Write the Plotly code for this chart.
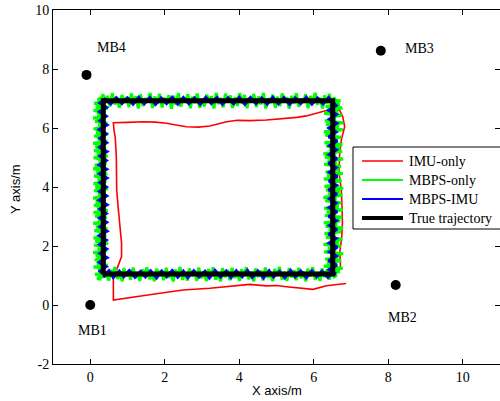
import plotly.graph_objects as go

# ---- True trajectory (rectangle corners) ----
true_x = [0.35, 6.51, 6.51, 0.35, 0.35]
true_y = [1.05, 1.05, 6.92, 6.92, 1.05]

# ---- MBPS-only (green) samples, per side, (x, y) ----
g_bottom = [(0.25,0.88),(0.31,1.22),(0.38,0.93),(0.42,1.10),(0.50,0.83),(0.55,1.19),(0.61,1.00),(0.66,1.29),(0.74,0.88),(0.78,1.14),(0.86,0.80),(0.90,1.25),(0.97,0.97),(1.03,1.17),(1.08,0.86),(1.15,1.27),(1.22,0.91),(1.27,1.12),(1.33,0.82),(1.41,1.21),(1.46,0.95),(1.52,1.28),(1.60,0.87),(1.64,1.09),(1.72,0.81),(1.78,1.23),(1.85,0.99),(1.90,1.18),(1.97,0.84),(2.04,1.26),(2.10,0.92),(2.15,1.13),(2.23,0.80),(2.28,1.20),(2.35,0.96),(2.41,1.29),(2.48,0.85),(2.53,1.11),(2.61,0.83),(2.66,1.24),(2.73,0.98),(2.80,1.16),(2.86,0.82),(2.91,1.27),(2.99,0.90),(3.04,1.14),(3.12,0.81),(3.17,1.22),(3.24,0.97),(3.30,1.28),(3.37,0.86),(3.43,1.10),(3.50,0.80),(3.55,1.25),(3.62,0.94),(3.69,1.19),(3.75,0.84),(3.81,1.26),(3.88,0.91),(3.93,1.12),(4.01,0.82),(4.06,1.21),(4.13,0.99),(4.19,1.28),(4.26,0.87),(4.32,1.13),(4.39,0.80),(4.44,1.24),(4.51,0.95),(4.58,1.17),(4.64,0.83),(4.70,1.27),(4.77,0.92),(4.82,1.10),(4.90,0.81),(4.95,1.22),(5.02,0.98),(5.08,1.29),(5.15,0.86),(5.21,1.12),(5.28,0.82),(5.34,1.25),(5.41,0.93),(5.47,1.18),(5.53,0.84),(5.60,1.26),(5.66,0.90),(5.71,1.14),(5.79,0.80),(5.84,1.23),(5.91,0.97),(5.97,1.28),(6.04,0.85),(6.10,1.11),(6.17,0.82),(6.22,1.24),(6.30,0.94),(6.35,1.19),(6.42,0.86),(6.48,1.15),(6.55,0.95)]
g_right = [(6.62,1.00),(6.30,1.06),(6.70,1.13),(6.42,1.18),(6.78,1.25),(6.27,1.31),(6.58,1.37),(6.36,1.43),(6.74,1.50),(6.31,1.55),(6.66,1.62),(6.45,1.68),(6.79,1.74),(6.28,1.80),(6.60,1.87),(6.38,1.92),(6.72,1.99),(6.26,2.05),(6.68,2.11),(6.47,2.17),(6.77,2.24),(6.33,2.29),(6.56,2.36),(6.29,2.42),(6.73,2.48),(6.40,2.54),(6.79,2.61),(6.32,2.66),(6.63,2.73),(6.27,2.79),(6.71,2.85),(6.44,2.91),(6.76,2.98),(6.30,3.03),(6.59,3.10),(6.35,3.16),(6.78,3.22),(6.28,3.28),(6.67,3.35),(6.46,3.40),(6.74,3.47),(6.31,3.53),(6.61,3.59),(6.26,3.65),(6.77,3.72),(6.39,3.77),(6.70,3.84),(6.33,3.90),(6.79,3.96),(6.29,4.02),(6.57,4.09),(6.43,4.14),(6.75,4.21),(6.27,4.27),(6.65,4.33),(6.36,4.39),(6.78,4.46),(6.32,4.51),(6.69,4.58),(6.48,4.64),(6.73,4.70),(6.28,4.76),(6.62,4.83),(6.37,4.88),(6.79,4.95),(6.30,5.01),(6.58,5.07),(6.26,5.13),(6.76,5.20),(6.41,5.25),(6.71,5.32),(6.34,5.38),(6.77,5.44),(6.29,5.50),(6.64,5.57),(6.45,5.62),(6.74,5.69),(6.31,5.75),(6.60,5.81),(6.27,5.87),(6.78,5.94),(6.38,5.99),(6.68,6.06),(6.33,6.12),(6.79,6.18),(6.30,6.24),(6.59,6.31),(6.44,6.36),(6.75,6.43),(6.28,6.49),(6.66,6.55),(6.36,6.61),(6.77,6.68),(6.32,6.73),(6.70,6.80),(6.47,6.86),(6.72,6.92),(6.55,6.96)]
g_top = [(6.55,7.05),(6.48,6.68),(6.42,7.16),(6.36,6.84),(6.29,7.10),(6.24,6.66),(6.17,7.02),(6.10,6.79),(6.04,7.19),(5.98,6.90),(5.91,7.08),(5.85,6.67),(5.78,7.14),(5.73,6.86),(5.66,7.00),(5.60,6.72),(5.53,7.18),(5.47,6.82),(5.41,7.09),(5.34,6.65),(5.28,7.04),(5.22,6.88),(5.15,7.17),(5.09,6.74),(5.02,7.06),(4.97,6.69),(4.90,7.13),(4.84,6.85),(4.77,7.01),(4.71,6.66),(4.65,7.19),(4.58,6.80),(4.52,7.07),(4.46,6.71),(4.39,7.15),(4.33,6.87),(4.26,7.03),(4.21,6.67),(4.14,7.12),(4.08,6.83),(4.01,7.18),(3.95,6.75),(3.89,7.05),(3.82,6.68),(3.76,7.10),(3.70,6.89),(3.63,7.16),(3.57,6.70),(3.50,7.02),(3.45,6.81),(3.38,7.19),(3.32,6.66),(3.25,7.08),(3.19,6.86),(3.13,7.13),(3.06,6.73),(3.00,7.00),(2.94,6.69),(2.87,7.17),(2.81,6.84),(2.74,7.06),(2.69,6.67),(2.62,7.14),(2.56,6.88),(2.49,7.04),(2.43,6.72),(2.37,7.18),(2.30,6.79),(2.24,7.09),(2.18,6.65),(2.11,7.11),(2.05,6.85),(1.98,7.03),(1.93,6.70),(1.86,7.16),(1.80,6.82),(1.73,7.07),(1.67,6.68),(1.61,7.19),(1.54,6.87),(1.48,7.01),(1.42,6.74),(1.35,7.14),(1.29,6.66),(1.22,7.08),(1.17,6.83),(1.10,7.17),(1.04,6.71),(0.97,7.05),(0.91,6.89),(0.85,7.12),(0.78,6.69),(0.72,7.02),(0.66,6.80),(0.59,7.18),(0.53,6.73),(0.46,7.09),(0.41,6.86),(0.34,7.15),(0.28,6.78),(0.25,7.00)]
g_left = [(0.20,6.96),(0.44,6.90),(0.10,6.84),(0.36,6.78),(0.15,6.71),(0.47,6.66),(0.09,6.59),(0.31,6.53),(0.19,6.47),(0.43,6.41),(0.08,6.34),(0.38,6.29),(0.13,6.22),(0.46,6.16),(0.22,6.10),(0.40,6.04),(0.09,5.97),(0.34,5.92),(0.16,5.85),(0.48,5.79),(0.11,5.73),(0.37,5.67),(0.21,5.60),(0.45,5.55),(0.08,5.48),(0.33,5.42),(0.14,5.36),(0.42,5.30),(0.10,5.23),(0.39,5.18),(0.18,5.11),(0.47,5.05),(0.09,4.99),(0.35,4.93),(0.23,4.86),(0.44,4.81),(0.12,4.74),(0.41,4.68),(0.08,4.62),(0.32,4.56),(0.17,4.49),(0.46,4.44),(0.10,4.37),(0.38,4.31),(0.20,4.25),(0.43,4.19),(0.09,4.12),(0.36,4.07),(0.14,4.00),(0.48,3.94),(0.11,3.88),(0.34,3.82),(0.22,3.75),(0.45,3.70),(0.08,3.63),(0.40,3.57),(0.15,3.51),(0.42,3.45),(0.10,3.38),(0.31,3.33),(0.19,3.26),(0.47,3.20),(0.09,3.14),(0.37,3.08),(0.13,3.01),(0.44,2.96),(0.21,2.89),(0.39,2.83),(0.08,2.77),(0.35,2.71),(0.16,2.64),(0.46,2.59),(0.11,2.52),(0.41,2.46),(0.24,2.40),(0.43,2.34),(0.09,2.27),(0.33,2.22),(0.14,2.15),(0.48,2.09),(0.10,2.03),(0.38,1.97),(0.20,1.90),(0.45,1.85),(0.08,1.78),(0.36,1.72),(0.15,1.66),(0.42,1.60),(0.12,1.53),(0.40,1.48),(0.18,1.41),(0.47,1.35),(0.09,1.29),(0.34,1.23),(0.22,1.16),(0.44,1.10),(0.13,1.04),(0.39,0.97),(0.18,0.90),(0.30,0.87)]

# ---- MBPS-IMU (blue) samples, per side ----
b_bottom_x = [0.35,0.50,0.62,0.78,0.90,1.05,1.20,1.35,1.48,1.62,1.78,1.92,2.05,2.20,2.35,2.50,2.62,2.78,2.92,3.08,3.20,3.35,3.50,3.65,3.78,3.92,4.08,4.22,4.35,4.50,4.65,4.80,4.92,5.08,5.22,5.38,5.50,5.65,5.80,5.95,6.08,6.22,6.38,6.50]
b_bottom_y = [0.95,1.16,0.93,1.15,0.96,1.17,0.94,1.14,0.95,1.16,0.92,1.15,0.96,1.17,0.94,1.15,0.93,1.16,0.95,1.14,0.92,1.17,0.95,1.15,0.93,1.16,0.96,1.17,0.94,1.15,0.92,1.16,0.95,1.14,0.93,1.17,0.95,1.15,0.93,1.16,0.96,1.15,0.94,1.10]
b_right_y = [1.05,1.20,1.35,1.50,1.66,1.80,1.96,2.10,2.26,2.40,2.56,2.70,2.86,3.00,3.16,3.30,3.46,3.60,3.76,3.90,4.06,4.20,4.36,4.50,4.66,4.80,4.96,5.10,5.26,5.40,5.56,5.70,5.86,6.00,6.16,6.30,6.46,6.60,6.76,6.90]
b_right_x = [6.60,6.41,6.62,6.40,6.61,6.42,6.63,6.41,6.60,6.40,6.62,6.42,6.61,6.40,6.63,6.41,6.60,6.42,6.62,6.40,6.61,6.41,6.63,6.42,6.60,6.40,6.62,6.41,6.61,6.42,6.63,6.40,6.60,6.41,6.62,6.42,6.61,6.40,6.60,6.48]
b_top_x = [6.40,6.25,6.10,5.95,5.80,5.65,5.50,5.35,5.20,5.05,4.90,4.75,4.60,4.45,4.30,4.15,4.00,3.85,3.70,3.55,3.40,3.25,3.10,2.95,2.80,2.65,2.50,2.35,2.20,2.05,1.90,1.75,1.60,1.45,1.30,1.15,1.00,0.85,0.70,0.55,0.40]
b_top_y = [7.03,6.82,7.02,6.81,7.04,6.83,7.02,6.80,7.03,6.82,7.04,6.81,7.02,6.83,7.03,6.80,7.04,6.82,7.02,6.81,7.03,6.83,7.04,6.80,7.02,6.82,7.03,6.81,7.04,6.83,7.02,6.80,7.03,6.82,7.04,6.81,7.02,6.83,7.03,6.82,6.98]
b_left_y = [6.85,6.70,6.55,6.40,6.25,6.10,5.95,5.80,5.65,5.50,5.35,5.20,5.05,4.90,4.75,4.60,4.45,4.30,4.15,4.00,3.85,3.70,3.55,3.40,3.25,3.10,2.95,2.80,2.65,2.50,2.35,2.20,2.05,1.90,1.75,1.60,1.45,1.30,1.15,1.02]
b_left_x = [0.26,0.44,0.25,0.43,0.26,0.45,0.24,0.43,0.26,0.44,0.25,0.45,0.26,0.43,0.24,0.44,0.25,0.45,0.26,0.43,0.25,0.44,0.24,0.45,0.26,0.43,0.25,0.44,0.26,0.45,0.24,0.43,0.25,0.44,0.26,0.45,0.24,0.43,0.26,0.38]

# ---- IMU-only (red) ----
red_x = [6.72,6.70,6.75,6.77,6.76,6.74,6.68,6.69,6.74,6.83,6.78,6.69,6.34,6.10,5.80,5.55,5.27,5.00,4.73,4.28,3.95,3.66,3.40,3.21,2.90,2.58,2.30,2.05,1.75,1.42,1.00,0.62,0.64,0.67,0.70,0.71,0.71,0.75,0.80,0.84,0.84,0.71,0.62,0.62,1.15,1.50,1.87,2.20,2.49,3.21,3.50,3.83,4.28,4.73,5.00,5.27,5.80,5.98,6.34,6.87]
red_y = [1.20,1.80,2.30,2.78,3.30,3.90,4.46,5.03,5.60,6.04,6.38,6.61,6.59,6.50,6.41,6.36,6.33,6.30,6.27,6.25,6.26,6.21,6.12,6.07,6.03,6.04,6.10,6.16,6.20,6.21,6.19,6.18,5.90,5.70,5.03,4.40,3.90,3.30,2.54,2.10,1.64,1.19,0.90,0.17,0.28,0.33,0.40,0.46,0.51,0.57,0.60,0.65,0.70,0.65,0.66,0.62,0.57,0.53,0.65,0.73]

# ---- Mobile beacons ----
mb_x = [0.0, 8.2, 7.8, -0.1]
mb_y = [0.0, 0.68, 8.62, 7.8]
mb_labels = ["MB1", "MB2", "MB3", "MB4"]
mb_label_x = [0.05, 8.39, 8.83, 0.56]
mb_label_y = [-0.85, -0.42, 8.7, 8.72]

xticks = [0, 2, 4, 6, 8, 10]
yticks = [-2, 0, 2, 4, 6, 8, 10]

legend_names = ["IMU-only", "MBPS-only", "MBPS-IMU", "True trajectory"]
legend_colors = ["#ff0000", "#00ff00", "#0000ff", "#000000"]
legend_widths = [1.6, 2, 2, 4]

green = g_bottom + g_right + g_top + g_left
green_x = [p[0] for p in green]
green_y = [p[1] for p in green]
blue_x = b_bottom_x + b_right_x + b_top_x + b_left_x
blue_y = b_bottom_y + b_right_y + b_top_y + b_left_y

serif = "Liberation Serif"
sans = "Liberation Sans"

fig = go.Figure()
fig.add_trace(go.Scatter(x=red_x, y=red_y, mode="lines", name=legend_names[0],
                         line=dict(color=legend_colors[0], width=1.6)))
fig.add_trace(go.Scatter(x=green_x, y=green_y, mode="lines", name=legend_names[1],
                         line=dict(color=legend_colors[1], width=3)))
fig.add_trace(go.Scatter(x=blue_x, y=blue_y, mode="lines", name=legend_names[2],
                         line=dict(color=legend_colors[2], width=3)))
fig.add_trace(go.Scatter(x=true_x, y=true_y, mode="lines", name=legend_names[3],
                         line=dict(color=legend_colors[3], width=5)))
fig.add_trace(go.Scatter(x=mb_x, y=mb_y, mode="markers",
                         marker=dict(color="black", size=10)))

for lx, ly, t in zip(mb_label_x, mb_label_y, mb_labels):
    fig.add_annotation(x=lx, y=ly, text=t, showarrow=False, xref="x", yref="y",
                       font=dict(family=serif, size=14, color="black"))

# ---- manual legend (MATLAB style), pixel layout converted to paper coords ----
L, T, W, H = 53, 10, 447, 354
def px(v):
    return (v - L) / W
def py(v):
    return (T + H - v) / H

fig.add_shape(type="rect", xref="paper", yref="paper",
              x0=px(353), x1=px(520), y0=py(229), y1=py(147),
              line=dict(color="black", width=1), fillcolor="white", layer="above")
for i, (nm, col, lw) in enumerate(zip(legend_names, legend_colors, legend_widths)):
    yy = 161 + 19 * i
    fig.add_shape(type="line", xref="paper", yref="paper",
                  x0=px(362), x1=px(403), y0=py(yy), y1=py(yy),
                  line=dict(color=col, width=lw), layer="above")
    fig.add_annotation(x=px(407), y=py(yy), xref="paper", yref="paper", text=nm,
                       showarrow=False, xanchor="left", yanchor="middle",
                       font=dict(family=serif, size=14, color="black"))

# axis titles
fig.add_annotation(x=0.5, y=py(390), xref="paper", yref="paper", text="X axis/m",
                   showarrow=False, xanchor="center", yanchor="middle",
                   font=dict(family=sans, size=13, color="black"))
fig.add_annotation(x=px(15), y=py(189), xref="paper", yref="paper", text="Y axis/m",
                   showarrow=False, xanchor="center", yanchor="middle", textangle=-90,
                   font=dict(family=sans, size=13, color="black"))

axis_common = dict(showgrid=False, zeroline=False, showline=True, linecolor="black",
                   linewidth=1, mirror="ticks", ticks="inside", ticklen=5,
                   tickcolor="black", automargin=False,
                   tickfont=dict(family=serif, size=14, color="black"))

fig.update_xaxes(range=[-1, 11], tickvals=xticks, ticktext=[str(v) for v in xticks],
                 **axis_common)
fig.update_yaxes(range=[-2, 10], tickvals=yticks, ticktext=[str(v) for v in yticks],
                 **axis_common)

fig.update_layout(
    width=500, height=401,
    margin=dict(l=L, r=0, t=T, b=401 - T - H),
    plot_bgcolor="white", paper_bgcolor="white",
    showlegend=False,
)

fig.write_html("out.html", config={"displayModeBar": False},
               post_script="document.body.style.margin='0px';document.body.style.overflow='hidden';")
